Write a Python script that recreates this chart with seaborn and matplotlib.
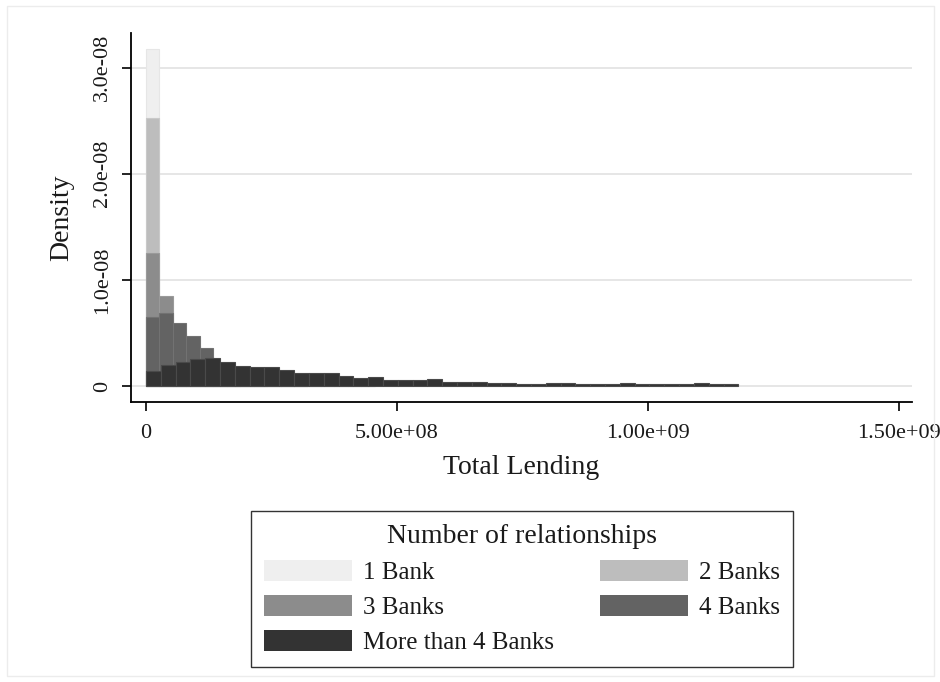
import numpy as np
import pandas as pd
import seaborn as sns
import matplotlib
matplotlib.use("Agg")
import matplotlib.pyplot as plt
from matplotlib.patches import Patch, Rectangle

# Relationship groups, drawn back to front
groups = ["1 Bank", "2 Banks", "3 Banks", "4 Banks", "More than 4 Banks"]
fill_colors = ["#efefef", "#bdbdbd", "#8c8c8c", "#636363", "#333333"]
edge_colors = ["#e6e6e6", "#c9c9c9", "#9a9a9a", "#727272", "#4a4a4a"]

# Histogram bin widths (Total Lending units); the last group uses wider bins
bin_width_small = 2.68e7
bin_width_large = 2.95e7

# Bar heights in units of 1e-8 (density), bins starting at 0
DENSITY_UNIT = 1e-8
density_1_bank = [3.18, 0.30, 0.12, 0.06, 0.035, 0.02, 0.01]
density_2_banks = [2.53, 0.55, 0.30, 0.15, 0.08, 0.05, 0.03, 0.02, 0.01]
density_3_banks = [1.25, 0.848, 0.50, 0.38, 0.27, 0.17, 0.12, 0.08, 0.05,
                   0.03, 0.02, 0.01]
density_4_banks = [0.647, 0.691, 0.597, 0.471, 0.355, 0.20, 0.16, 0.13, 0.11,
                   0.09, 0.07, 0.06, 0.05, 0.04, 0.03, 0.025, 0.02]
density_more_4 = [0.139, 0.196, 0.224, 0.250, 0.266, 0.228, 0.190, 0.177,
                  0.181, 0.146, 0.127, 0.127, 0.124, 0.090, 0.074, 0.083,
                  0.061, 0.055, 0.052, 0.062, 0.037, 0.034, 0.041, 0.028,
                  0.031, 0.022, 0.022, 0.025, 0.025, 0.022, 0.022, 0.022,
                  0.024, 0.022, 0.018, 0.020, 0.022, 0.024, 0.020, 0.016]

group_densities = [density_1_bank, density_2_banks, density_3_banks,
                   density_4_banks, density_more_4]
group_widths = [bin_width_small] * 4 + [bin_width_large]

x_ticks = [0, 5e8, 1e9, 1.5e9]
x_tick_labels = ["0", "5.00e+08", "1.00e+09", "1.50e+09"]
y_ticks = [0, 1e-8, 2e-8, 3e-8]
y_tick_labels = ["0", "1.0e-08", "2.0e-08", "3.0e-08"]

sns.set_style("white")
plt.rcParams["font.family"] = ["Liberation Serif", "DejaVu Serif"]

W, H = 940, 682
fig = plt.figure(figsize=(W / 100, H / 100), dpi=100)
ax_left, ax_right, ax_top, ax_bottom = 131, 912, 33, 402
ax = fig.add_axes([ax_left / W, 1 - ax_bottom / H,
                   (ax_right - ax_left) / W, (ax_bottom - ax_top) / H])

for vals, width, fc, ec in zip(group_densities, group_widths,
                               fill_colors, edge_colors):
    n = len(vals)
    centers = (np.arange(n) + 0.5) * width
    df = pd.DataFrame({
        "lending": centers,
        "density": np.asarray(vals) * DENSITY_UNIT,
    })
    sns.histplot(data=df, x="lending", weights="density",
                 binwidth=width, binrange=(0, n * width),
                 stat="count", color=fc, alpha=1, edgecolor=ec,
                 linewidth=0.8, ax=ax, zorder=2)

ax.set_xlim(-2.99e7, 1.526e9)
ax.set_ylim(-0.151e-8, 3.327e-8)

ax.set_xticks(x_ticks)
ax.set_xticklabels(x_tick_labels)
ax.set_yticks(y_ticks)
ax.set_yticklabels(y_tick_labels, rotation=90, va="center")

ax.tick_params(axis="both", direction="out", length=6.5, width=1.2,
               color="black", labelsize=16, labelcolor="#1a1a1a",
               bottom=True, left=True)
ax.tick_params(axis="y", pad=7)
ax.tick_params(axis="x", pad=9)

for side in ["top", "right"]:
    ax.spines[side].set_visible(False)
for side in ["left", "bottom"]:
    ax.spines[side].set_color("black")
    ax.spines[side].set_linewidth(1.3)

ax.yaxis.grid(True, color="#e2e2e2", linewidth=1.2)
ax.xaxis.grid(False)
ax.set_axisbelow(True)

ax.set_xlabel("Total Lending", fontsize=20, color="#1a1a1a", labelpad=9)
ax.set_ylabel("Density", fontsize=20, color="#1a1a1a", labelpad=14)

# Legend laid out row-wise in two columns
handles = [Patch(facecolor=c, edgecolor="none") for c in fill_colors]
order = [0, 2, 4, 1, 3]
leg = fig.legend([handles[i] for i in order], [groups[i] for i in order],
                 ncol=2, loc="upper center",
                 bbox_to_anchor=(522 / W, 1 - 511 / H), borderaxespad=0,
                 frameon=True, fancybox=False, edgecolor="black",
                 title="Number of relationships", title_fontsize=20,
                 fontsize=18, handlelength=3.5, handleheight=0.92,
                 handletextpad=0.45, columnspacing=1.85, labelspacing=0.43,
                 borderpad=0.52)
leg.get_frame().set_linewidth(1.0)
for t in leg.get_texts():
    t.set_color("#1a1a1a")
leg.get_title().set_color("#1a1a1a")

# Faint outer frame of the graph region
fig.add_artist(Rectangle((7 / W, 6 / H), (934 - 7) / W, (676 - 6) / H,
                         transform=fig.transFigure, fill=False,
                         edgecolor="#ececec", linewidth=1))

fig.savefig("out.png", dpi=100)
